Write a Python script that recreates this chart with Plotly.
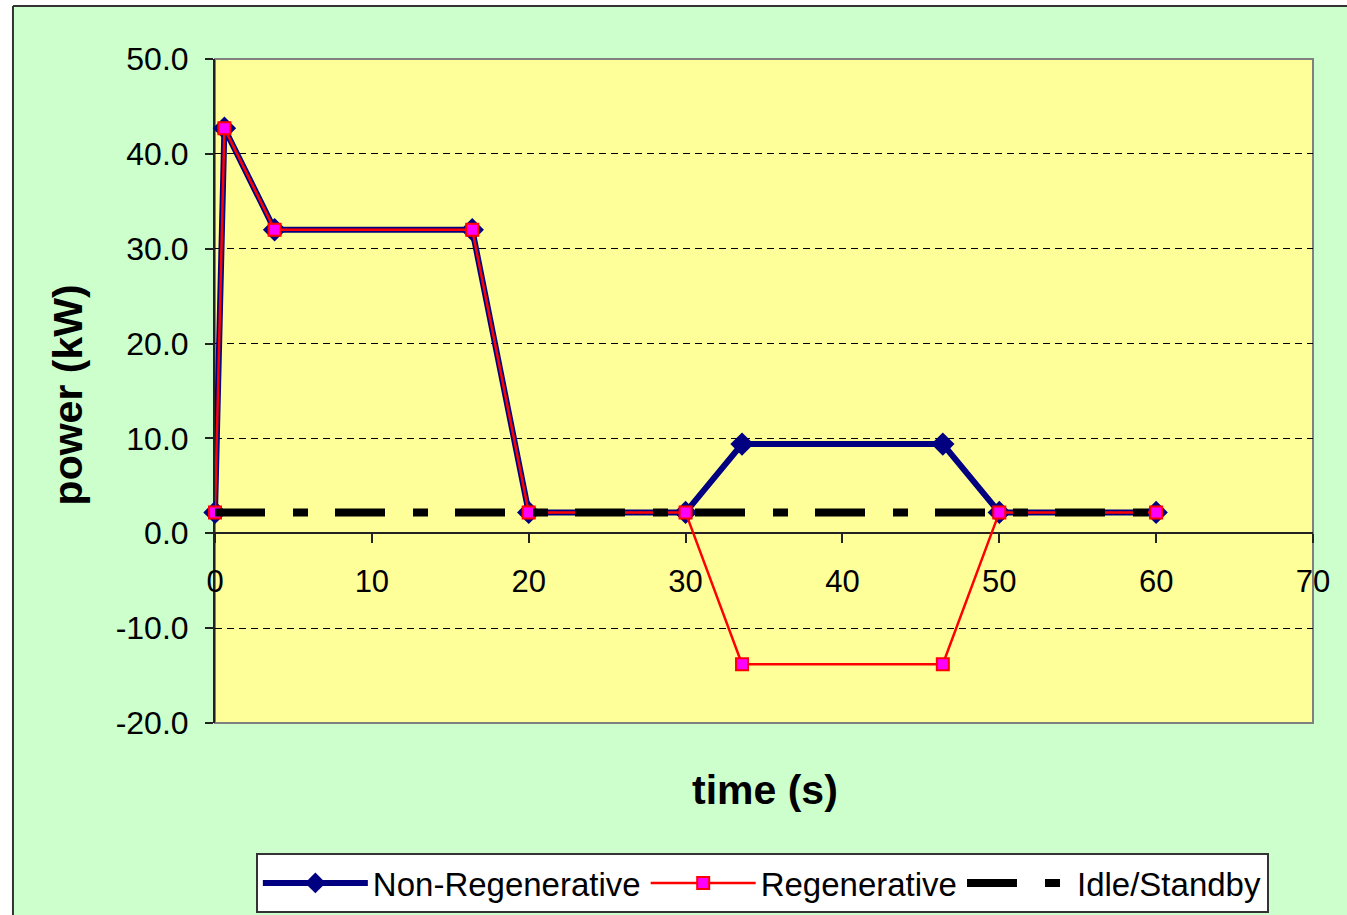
import plotly.graph_objects as go

# ---- data ----
time_s = [0, 0.6, 3.8, 16.4, 20, 30, 33.6, 46.4, 50, 60]
power_nonregen = [2.2, 42.7, 32.0, 32.0, 2.2, 2.2, 9.4, 9.4, 2.2, 2.2]
power_regen = [2.2, 42.7, 32.0, 32.0, 2.2, 2.2, -13.8, -13.8, 2.2, 2.2]
idle_time = [0, 60]
idle_power = [2.2, 2.2]

series_names = ["Non-Regenerative", "Regenerative", "Idle/Standby"]
x_range = [0, 70]
y_range = [-20, 50]
y_tick_vals = [-20, -10, 0, 10, 20, 30, 40, 50]
y_tick_text = ["-20.0", "-10.0", "0.0", "10.0", "20.0", "30.0", "40.0", "50.0"]

FONT = "Liberation Sans, Arial, sans-serif"

fig = go.Figure()
fig.add_trace(go.Scatter(
    x=time_s, y=power_nonregen, name=series_names[0], mode="lines+markers",
    line=dict(color="#000080", width=6),
    marker=dict(symbol="diamond", size=18, color="#000080"),
    cliponaxis=False,
))
fig.add_trace(go.Scatter(
    x=time_s, y=power_regen, name=series_names[1], mode="lines+markers",
    line=dict(color="#FF0000", width=2.5),
    marker=dict(symbol="square", size=12, color="#FF00FF",
                line=dict(color="#FF0000", width=2)),
    cliponaxis=False,
))
fig.add_trace(go.Scatter(
    x=idle_time, y=idle_power, name=series_names[2], mode="lines",
    line=dict(color="#000000", width=8, dash="50px,28px,15px,27px"),
    cliponaxis=False,
))

fig.update_layout(
    width=1347, height=915,
    margin=dict(l=215, r=34, t=59, b=192),
    paper_bgcolor="#CCFFCC",
    plot_bgcolor="#FFFF99",
    font=dict(family=FONT, color="#000000"),
    showlegend=True,
    legend=dict(
        orientation="h", xref="paper", x=0.4985, xanchor="center",
        yref="container", y=1 - 853 / 915, yanchor="top",
        bgcolor="#FFFFFF", bordercolor="#333333", borderwidth=2,
        font=dict(family=FONT, size=33, color="#000000"),
        itemwidth=105, traceorder="normal",
    ),
    xaxis=dict(
        range=x_range, dtick=10, anchor="free", position=20 / 70,
        showline=True, linecolor="#222222", linewidth=2,
        ticks="outside", ticklen=9, tickcolor="#222222", tickwidth=1.5,
        showgrid=False, zeroline=False, layer="below traces",
        tickfont=dict(family=FONT, size=31), ticklabelstandoff=12,
    ),
    yaxis=dict(
        range=y_range, tickmode="array", tickvals=y_tick_vals, ticktext=y_tick_text,
        showline=True, linecolor="#222222", linewidth=2,
        ticks="outside", ticklen=8, tickcolor="#222222", tickwidth=1.5,
        showgrid=True, gridcolor="#000000", gridwidth=1, griddash="7px,5px",
        zeroline=False, layer="below traces",
        tickfont=dict(family=FONT, size=32), ticklabelstandoff=10,
    ),
    annotations=[
        dict(text="<b>time (s)</b>", xref="paper", yref="paper",
             x=0.5009, y=-0.101, xanchor="center", yanchor="middle",
             showarrow=False, font=dict(family=FONT, size=41)),
        dict(text="<b>power (kW)</b>", xref="paper", yref="paper",
             x=-0.134, y=0.4947, xanchor="center", yanchor="middle",
             textangle=-90, showarrow=False, font=dict(family=FONT, size=41)),
    ],
    shapes=[
        # plot-area border (gray)
        dict(type="rect", xref="paper", yref="paper", x0=0, y0=0, x1=1, y1=1,
             line=dict(color="#808080", width=2), layer="below"),
        # white page strips outside the chart frame
        dict(type="rect", xref="paper", yref="paper", x0=-0.3, x1=-0.184,
             y0=-0.5, y1=1.3, fillcolor="#FFFFFF", line=dict(width=0)),
        dict(type="rect", xref="paper", yref="paper", x0=-0.3, x1=1.2,
             y0=1.0799, y1=1.3, fillcolor="#FFFFFF", line=dict(width=0)),
        # chart frame border
        dict(type="line", xref="paper", yref="paper", x0=-0.184, x1=-0.184,
             y0=-0.5, y1=1.0799, line=dict(color="#333333", width=2)),
        dict(type="line", xref="paper", yref="paper", x0=-0.184, x1=1.2,
             y0=1.0799, y1=1.0799, line=dict(color="#333333", width=2)),
    ],
)

fig.write_html("out.html")
